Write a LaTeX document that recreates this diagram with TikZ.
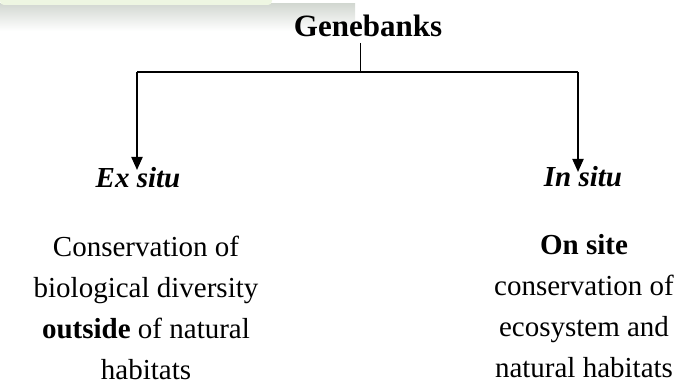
\documentclass[tikz,border=0pt]{standalone}
\usepackage{fontspec}
\setmainfont{Liberation Serif}
\usetikzlibrary{arrows.meta}
\definecolor{bannergreen}{HTML}{EEF6E2}
\definecolor{bannergray}{HTML}{D3D8D2}
\tikzset{
  head/.style={font=\fontsize{29}{34}\selectfont\bfseries\itshape, anchor=base},
  desc/.style={font=\fontsize{29}{41}\selectfont, align=center, anchor=base},
  branch/.style={line width=2pt, -{Triangle[width=11pt,length=13pt]}}
}
\begin{document}
\begin{tikzpicture}[x=1pt,y=-1pt]
  \useasboundingbox (0,0) rectangle (697,385);
  % faded banner at the top left
  \shade[top color=bannergray, bottom color=white] (0,4) rectangle (355,31);
  \fill[bannergreen, rounded corners=4pt] (0,-4) rectangle (272,5);
  \node[font=\fontsize{31}{36}\selectfont\bfseries, anchor=base] (genebanks) at (368,37) {Genebanks};
  \coordinate (stub) at (360,43);
  \coordinate (split) at (360,72);
  \coordinate (left) at (137,72);
  \coordinate (right) at (578,72);
  \coordinate (extip) at (137,170);
  \coordinate (intip) at (578,172);
  \node[head] (ex) at (138,188) {Ex situ};
  \node[head] (in) at (583,187) {In situ};
  \node[desc] (exdesc) at (146,379) {Conservation of\\biological diversity\\\textbf{outside} of natural\\habitats};
  \node[desc] (indesc) at (584,377) {\textbf{On site}\\conservation of\\ecosystem and\\natural habitats};
  \begin{scope}[line width=1.2pt]
    \draw[line width=0.8pt] (stub) -- (split);
    \draw (left) -- (right);
  \end{scope}
  \draw[branch] (left) -- (extip);
  \draw[branch] (right) -- (intip);
\end{tikzpicture}
\end{document}
